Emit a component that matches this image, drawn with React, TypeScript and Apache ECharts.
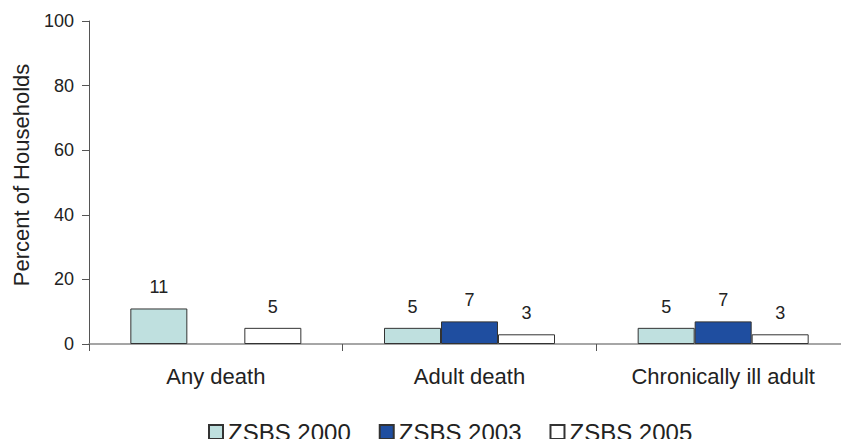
import React, { useEffect, useRef } from "react";
import * as echarts from "echarts";

const categories = ["Any death", "Adult death", "Chronically ill adult"];
const seriesNames = ["ZSBS 2000", "ZSBS 2003", "ZSBS 2005"];
const zsbs2000 = [11, 5, 5];
const zsbs2003: (number | null)[] = [null, 7, 7];
const zsbs2005 = [5, 3, 3];
const yTicks = { min: 0, max: 100, interval: 20 };
const yTitle = "Percent of Households";

const colors = ["#bfe0df", "#1f4ea0", "#ffffff"];
const FONT = "Liberation Sans, Arial, sans-serif";

export default function App() {
  const ref = useRef<HTMLDivElement>(null);
  useEffect(() => {
    if (!ref.current) return;
    const chart = echarts.init(ref.current, null, { renderer: "svg" });
    const data = [zsbs2000, zsbs2003, zsbs2005];
    chart.setOption({
      animation: false,
      textStyle: { fontFamily: FONT },
      grid: { left: 89, top: 21, bottom: 95, right: 0, containLabel: false },
      legend: {
        top: 415,
        left: 203,
        itemWidth: 14,
        itemHeight: 14,
        itemGap: 28,
        icon: "rect",
        textStyle: { fontSize: 24, color: "#222", fontFamily: FONT },
        data: seriesNames,
      },
      graphic: [
        {
          type: "text",
          x: 21,
          y: 175,
          rotation: Math.PI / 2,
          style: {
            text: yTitle,
            fontSize: 22,
            fontFamily: FONT,
            fill: "#222",
            align: "center",
            verticalAlign: "middle",
          },
        },
      ],
      xAxis: {
        type: "category",
        data: categories,
        axisLine: { lineStyle: { color: "#888", width: 1.5 } },
        axisTick: { show: true, length: 7, lineStyle: { color: "#555" } },
        axisLabel: { fontSize: 22, color: "#222", margin: 21, fontFamily: FONT },
      },
      yAxis: {
        type: "value",
        min: yTicks.min,
        max: yTicks.max,
        interval: yTicks.interval,
        axisLine: { show: true, lineStyle: { color: "#555" } },
        axisTick: { show: true, length: 7, lineStyle: { color: "#555" } },
        axisLabel: { fontSize: 18, color: "#222", margin: 15, fontFamily: FONT },
        splitLine: { show: false },
      },
      series: seriesNames.map((name, i) => ({
        name,
        type: "bar",
        data: data[i],
        barWidth: 57,
        barGap: "0%",
        itemStyle: { color: colors[i], borderColor: "#333", borderWidth: 1 },
        label: {
          show: true,
          position: "top",
          distance: 12,
          fontSize: 18,
          color: "#222",
          fontFamily: FONT,
        },
      })),
    });
    return () => chart.dispose();
  }, []);
  return (
    <div style={{ width: 841, height: 439, position: "absolute", left: 0, top: 0, overflow: "hidden" }}>
      <div ref={ref} style={{ width: 850, height: 439 }} />
    </div>
  );
}
